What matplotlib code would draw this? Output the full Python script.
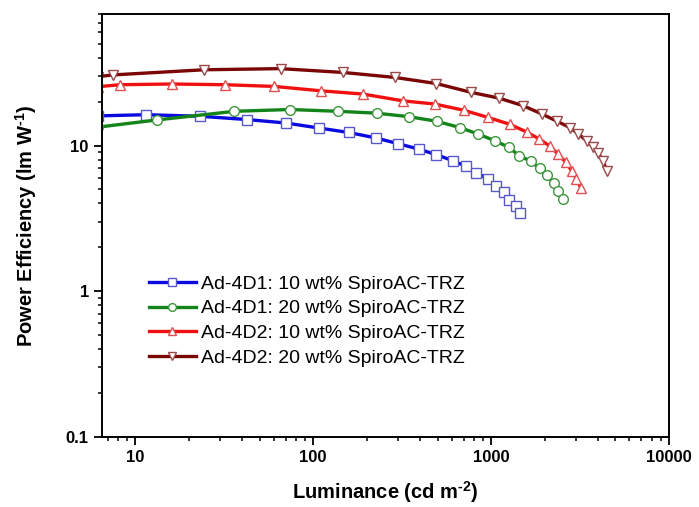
import matplotlib
matplotlib.use('Agg')
import matplotlib.pyplot as plt
from matplotlib.ticker import LogLocator, NullFormatter, FixedLocator, FixedFormatter

plt.rcParams['font.family'] = ['Liberation Sans', 'DejaVu Sans']
plt.rcParams['mathtext.fontset'] = 'custom'
plt.rcParams['mathtext.rm'] = 'Liberation Sans:bold'
plt.rcParams['mathtext.bf'] = 'Liberation Sans:bold'

# Ad-4D1, 10 wt% (blue squares)
lum_b = [6.2, 11.5, 23.2, 42.4, 70.0, 108, 158.5, 224, 301, 393, 493, 607, 725, 828,
         956, 1069, 1184, 1266, 1380, 1459]
pe_b = [16.0, 16.3, 15.9, 15.1, 14.3, 13.2, 12.3, 11.3, 10.3, 9.45, 8.65, 7.89, 7.19,
        6.51, 5.92, 5.30, 4.83, 4.23, 3.86, 3.46]

# Ad-4D1, 20 wt% (green circles)
lum_g = [6.2, 13.2, 36.1, 74.0, 138, 227, 345, 494, 667, 846, 1051, 1259, 1442, 1669,
         1872, 2068, 2250, 2386, 2530]
pe_g = [13.4, 15.0, 17.2, 17.7, 17.2, 16.7, 15.8, 14.7, 13.3, 12.0, 10.8, 9.72, 8.50,
        7.83, 6.99, 6.23, 5.51, 4.86, 4.27]

# Ad-4D2, 10 wt% (red up triangles)
lum_r = [6.2, 8.18, 16.0, 31.9, 60.5, 110, 190.6, 319, 482, 701, 964, 1274, 1585, 1865,
         2138, 2380, 2640, 2843, 3021, 3193]
pe_r = [25.4, 26.2, 26.5, 26.2, 25.5, 23.8, 22.6, 20.3, 19.3, 17.5, 15.6, 14.0, 12.4,
        11.1, 9.93, 8.75, 7.65, 6.69, 5.91, 5.11]

# Ad-4D2, 20 wt% (dark red down triangles)
lum_d = [6.2, 7.5, 24.4, 65.5, 148, 288, 492, 774, 1107, 1514, 1928, 2350, 2770, 3080,
         3440, 3720, 4000, 4270, 4460]
pe_d = [29.8, 30.6, 33.2, 33.8, 31.8, 29.4, 26.7, 23.2, 21.2, 18.8, 16.5, 14.7, 13.3,
        12.1, 10.8, 9.84, 8.85, 7.89, 6.64]

labels = ['Ad-4D1: 10 wt% SpiroAC-TRZ', 'Ad-4D1: 20 wt% SpiroAC-TRZ',
          'Ad-4D2: 10 wt% SpiroAC-TRZ', 'Ad-4D2: 20 wt% SpiroAC-TRZ']

series = [
    (lum_b, pe_b, '#0a0ae0', '#5858c8', 's'),
    (lum_g, pe_g, '#12841a', '#3c963c', 'o'),
    (lum_r, pe_r, '#f01010', '#e05050', '^'),
    (lum_d, pe_d, '#7a0606', '#9a4a4a', 'v'),
]

fig = plt.figure(figsize=(6.99, 5.07), dpi=100)
ax = fig.add_axes([0.146, 0.139, 0.811, 0.833])

for (x, y, lc, mc, m), lab in zip(series, labels):
    ax.plot(x, y, color=lc, lw=2.4, marker=m, ms=7, mfc='white', mec=mc, mew=1.0,
            label=lab)

ax.set_xscale('log')
ax.set_yscale('log')
ax.set_xlim(6.5, 10000)
ax.set_ylim(0.1, 80)

ax.xaxis.set_major_locator(FixedLocator([10, 100, 1000, 10000]))
ax.xaxis.set_major_formatter(FixedFormatter(['10', '100', '1000', '10000']))
ax.xaxis.set_minor_locator(LogLocator(base=10, subs=range(2, 10), numticks=20))
ax.xaxis.set_minor_formatter(NullFormatter())
ax.yaxis.set_major_locator(FixedLocator([0.1, 1, 10]))
ax.yaxis.set_major_formatter(FixedFormatter(['0.1', '1', '10']))
ax.yaxis.set_minor_locator(LogLocator(base=10, subs=range(2, 10), numticks=20))
ax.yaxis.set_minor_formatter(NullFormatter())

ax.tick_params(which='major', direction='out', length=5.5, width=1.3, labelsize=12, pad=4)
ax.tick_params(which='minor', direction='out', length=3, width=1.1)
for t in ax.get_xticklabels() + ax.get_yticklabels():
    t.set_fontweight('bold')
for s in ax.spines.values():
    s.set_linewidth(1.4)

ax.set_xlabel('Luminance (cd m$^{\\text{-2}}$)', fontsize=14.5, fontweight='bold', labelpad=10)
ax.set_ylabel('Power Efficiency (lm W$^{\\text{-1}}$)', fontsize=14.5, fontweight='bold')
ax.yaxis.set_label_coords(-0.112, 0.5)

ax.legend(loc='upper left', bbox_to_anchor=(0.083, 0.382), frameon=False, fontsize=14,
          handlelength=2.4, handletextpad=0.25, labelspacing=0.36, borderpad=0,
          borderaxespad=0, markerscale=0.8)

fig.savefig('out.png', dpi=100)
